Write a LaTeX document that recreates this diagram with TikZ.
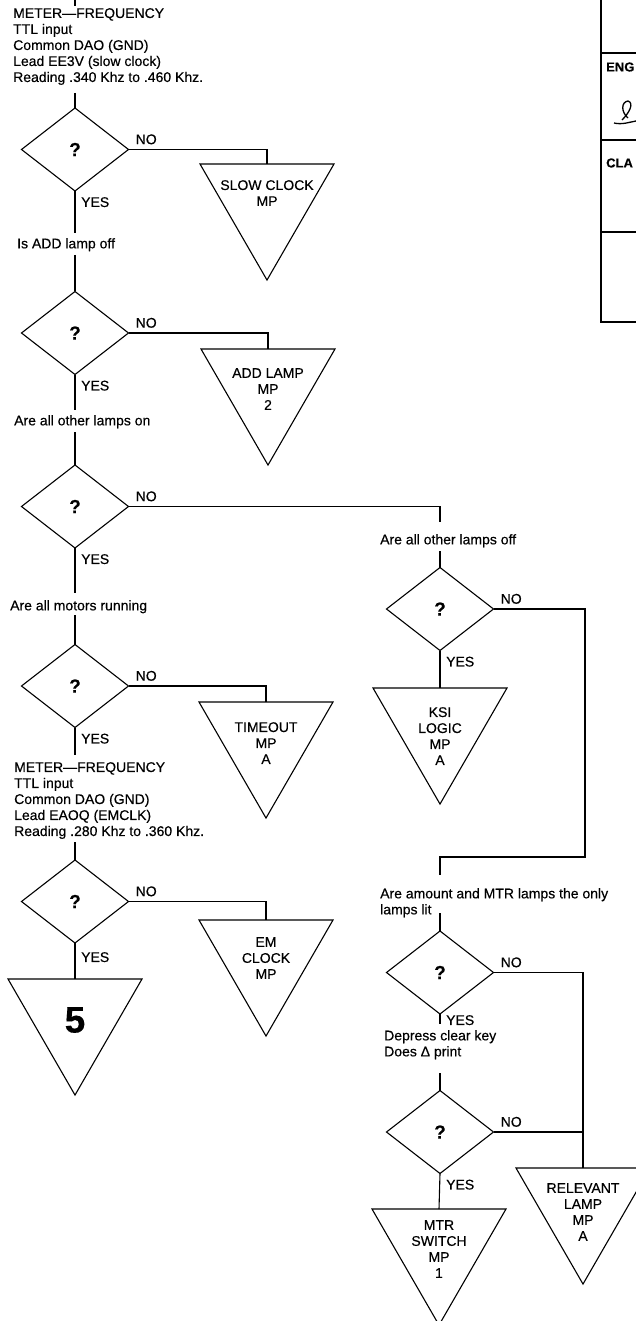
\documentclass[tikz,border=0pt]{standalone}
\usepackage{fontspec}
\setmainfont{Liberation Sans}[FakeBold=0.35]
\usetikzlibrary{shapes.geometric}
\tikzset{
  conn/.style={line width=1.1pt},
  dec/.style={diamond, draw, line width=1.1pt, minimum width=107pt, minimum height=83pt,
    inner sep=0pt, outer sep=0pt, font=\fontsize{19}{19}\selectfont\bfseries},
  tri/.style={regular polygon, regular polygon sides=3, shape border rotate=180, draw,
    line width=1.1pt, minimum size=154.7pt, inner sep=0pt, outer sep=0pt},
  tritext/.style={anchor=north, align=center, inner sep=0pt, font=\fontsize{14}{16}\selectfont},
  txt/.style={anchor=north west, align=left, inner sep=0pt, font=\fontsize{14}{16}\selectfont},
  nolab/.style={anchor=south west, xshift=7pt, yshift=5pt, inner sep=0pt, font=\fontsize{14}{16}\selectfont},
  yeslab/.style={anchor=north west, xshift=6pt, yshift=-6pt, inner sep=0pt, font=\fontsize{14}{16}\selectfont},
  boxline/.style={line width=1.6pt},
  boxlab/.style={anchor=west, inner sep=0pt, font=\fontsize{13}{15}\selectfont\bfseries}
}
\begin{document}
\begin{tikzpicture}[x=1pt,y=-1pt]
\useasboundingbox (0,0) rectangle (635,1321);

% ---------- left column ----------
\coordinate (s0) at (75,0);
\coordinate (s1) at (75,6);
\draw[conn] (s0) -- (s1);
\node[txt] (t1) at (13,8) {METER—FREQUENCY\\TTL input\\Common DAO (GND)\\Lead EE3V (slow clock)\\Reading .340 Khz to .460 Khz.};

\node[dec] (d1) at (75,149.5) {?};
\coordinate (a1) at (75,93);
\draw[conn] (a1) -- (d1.north);
\node[tri] (k1) at (267,202.7) {};
\node[tritext] (k1t) at (267,180) {SLOW CLOCK\\MP};
\draw[conn] (d1.east) -| (k1.north);
\node[nolab] (n1) at (d1.east) {NO};
\node[yeslab] (y1) at (d1.south) {YES};
\coordinate (b1) at (75,233);
\draw[conn] (d1.south) -- (b1);

\node[txt] (t2) at (17,238) {Is ADD lamp off};
\node[dec] (d2) at (75,333) {?};
\coordinate (a2) at (75,255);
\draw[conn] (a2) -- (d2.north);
\node[tri] (k2) at (268,387.7) {};
\node[tritext] (k2t) at (268,368) {ADD LAMP\\MP\\2};
\draw[conn] (d2.east) -| (k2.north);
\node[nolab] (n2) at (d2.east) {NO};
\node[yeslab] (y2) at (d2.south) {YES};
\coordinate (b2) at (75,410);
\draw[conn] (d2.south) -- (b2);

\node[txt] (t3) at (14,415) {Are all other lamps on};
\node[dec] (d3) at (75,506.5) {?};
\coordinate (a3) at (75,432);
\draw[conn] (a3) -- (d3.north);
\coordinate (c3) at (440,522);
\draw[conn] (d3.east) -| (c3);
\node[nolab] (n3) at (d3.east) {NO};
\node[yeslab] (y3) at (d3.south) {YES};
\coordinate (b3) at (75,593);
\draw[conn] (d3.south) -- (b3);

\node[txt] (t4) at (10,600) {Are all motors running};
\node[dec] (d4) at (75,686) {?};
\coordinate (a4) at (75,615);
\draw[conn] (a4) -- (d4.north);
\node[tri] (k4) at (266,740.7) {};
\node[tritext] (k4t) at (266,722) {TIMEOUT\\MP\\A};
\draw[conn] (d4.east) -| (k4.north);
\node[nolab] (n4) at (d4.east) {NO};
\node[yeslab] (y4) at (d4.south) {YES};
\coordinate (b4) at (75,755);
\draw[conn] (d4.south) -- (b4);

\node[txt] (t5) at (14,762) {METER—FREQUENCY\\TTL input\\Common DAO (GND)\\Lead EAOQ (EMCLK)\\Reading .280 Khz to .360 Khz.};
\node[dec] (d5) at (75,901.5) {?};
\coordinate (a5) at (75,842);
\draw[conn] (a5) -- (d5.north);
\node[tri] (k5) at (266,958.7) {};
\node[tritext] (k5t) at (266,937) {EM\\CLOCK\\MP};
\draw[conn] (d5.east) -| (k5.north);
\node[nolab] (n5) at (d5.east) {NO};
\node[yeslab, yshift=-3pt] (y5) at (d5.south) {YES};
\node[tri] (k6) at (75,1017.7) {};
\node[inner sep=0pt, font=\fontsize{37}{37}\selectfont\bfseries] (k6t) at (75,1020) {5};
\draw[conn] (d5.south) -- (k6.north);

% ---------- right column ----------
\node[txt] (t6) at (380,534) {Are all other lamps off};
\node[dec] (d6) at (440,609) {?};
\coordinate (a6) at (440,551);
\draw[conn] (a6) -- (d6.north);
\node[tri] (k7) at (440,726.7) {};
\node[tritext] (k7t) at (440,707) {KSI\\LOGIC\\MP\\A};
\draw[conn] (d6.south) -- (k7.north);
\node[nolab] (n6) at (d6.east) {NO};
\node[yeslab] (y6) at (d6.south) {YES};
\coordinate (c6a) at (585,857);
\coordinate (c6b) at (440,875);
\draw[conn] (d6.east) -| (c6a) -| (c6b);

\node[txt] (t7) at (380,888) {Are amount and MTR lamps the only\\lamps lit};
\node[dec] (d7) at (440,972.5) {?};
\coordinate (a7) at (440,913);
\draw[conn] (a7) -- (d7.north);
\node[nolab] (n7) at (d7.east) {NO};
\node[yeslab, yshift=5pt] (y7) at (d7.south) {YES};
\coordinate (b7) at (440,1024);
\draw[conn] (d7.south) -- (b7);

\node[txt] (t8) at (384,1030) {Depress clear key\\Does Δ print};
\node[dec] (d8) at (440,1132) {?};
\coordinate (a8) at (440,1073);
\draw[conn] (a8) -- (d8.north);
\node[nolab] (n8) at (d8.east) {NO};
\node[yeslab] (y8) at (d8.south) {YES};
\node[tri] (k8) at (439,1247.7) {};
\node[tritext] (k8t) at (439,1220) {MTR\\SWITCH\\MP\\1};
\draw[conn] (d8.south) -- (k8.north);
\node[tri] (k9) at (583,1206.7) {};
\node[tritext] (k9t) at (583,1183) {RELEVANT\\LAMP\\MP\\A};
\draw[conn] (d7.east) -| (k9.north);
\draw[conn] (d8.east) -- (d8.east -| k9.north);

% ---------- title block (cut off at right) ----------
\draw[boxline] (601,0) -- (601,322) -- (640,322);
\draw[boxline] (601,53) -- (640,53);
\draw[boxline] (601,140) -- (640,140);
\draw[boxline] (601,232) -- (640,232);
\node[boxlab] (eng) at (606,67) {ENG};
\node[boxlab] (cla) at (606,163) {CLA};
\draw[line width=1.3pt] (614,123) .. controls (622,125) and (630,122) .. (636,121);
\draw[line width=1.3pt] (622,120) .. controls (630,112) and (634,103) .. (628,101)
  .. controls (621,102) and (621,112) .. (628,118);
\end{tikzpicture}
\end{document}
